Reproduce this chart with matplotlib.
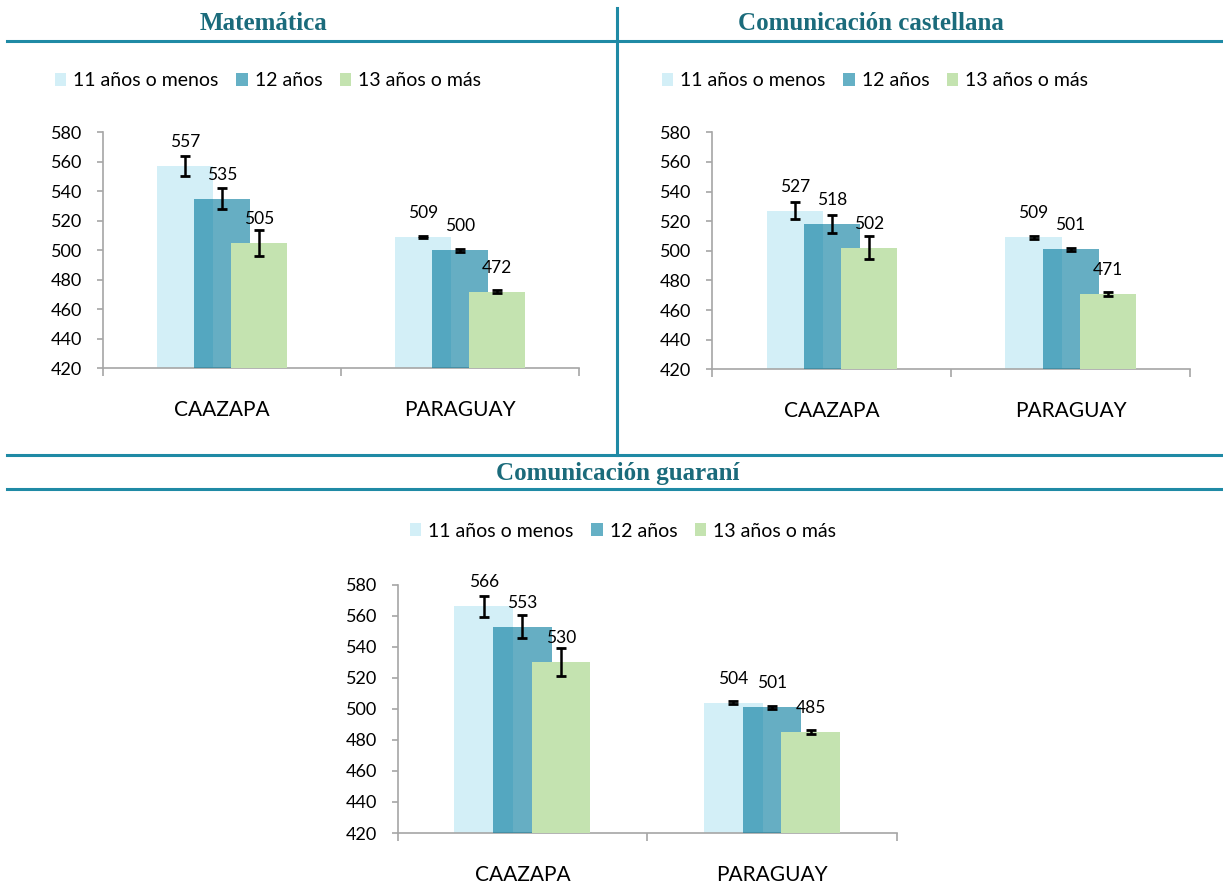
import matplotlib
matplotlib.use("Agg")
import matplotlib.pyplot as plt
import numpy as np
from matplotlib.patches import Patch
from matplotlib.lines import Line2D

categories = ["CAAZAPA", "PARAGUAY"]
series_names = ["11 años o menos", "12 años", "13 años o más"]
y_ticks = [420, 440, 460, 480, 500, 520, 540, 560, 580]

mat_11 = [557, 509]
mat_12 = [535, 500]
mat_13 = [505, 472]
mat_err_11 = [6.7, 1.0]
mat_err_12 = [7.2, 1.0]
mat_err_13 = [8.8, 1.2]

cas_11 = [527, 509]
cas_12 = [518, 501]
cas_13 = [502, 471]
cas_err_11 = [5.7, 1.2]
cas_err_12 = [6.0, 0.8]
cas_err_13 = [7.7, 1.3]

gua_11 = [566, 504]
gua_12 = [553, 501]
gua_13 = [530, 485]
gua_err_11 = [6.6, 0.9]
gua_err_12 = [7.5, 0.9]
gua_err_13 = [8.9, 1.5]

FONT = "Lato"
C_LIGHT = "#d3eff7"
C_MID = (0.0, 0.47, 0.61, 0.6)
C_MID_LEG = "#65b0c5"
C_GREEN = "#c4e3b0"
TEAL_TXT = "#1b6b7b"
TEAL_LINE = "#1f8aa5"
AX_GRAY = "#a6a6a6"

W, H = 1223, 888
fig = plt.figure(figsize=(W / 100, H / 100), dpi=100)


def fx(px):
    return px / W


def fy(py):
    return 1 - py / H


def panel(rect, v11, v12, v13, e11, e12, e13):
    ax = fig.add_axes(rect)
    x = np.arange(len(categories)) + 0.5
    bw = 0.235
    step = 0.155
    vals = [v11, v12, v13]
    errs = [e11, e12, e13]
    cols = [C_LIGHT, C_MID, C_GREEN]
    for i, (v, e, c) in enumerate(zip(vals, errs, cols)):
        xi = x + (i - 1) * step
        heights = np.array(v) - 420
        ax.bar(xi, heights, bw, bottom=420, color=c, zorder=2 + i, linewidth=0)
        ax.errorbar(xi, v, yerr=e, fmt="none", ecolor="black", elinewidth=1.8,
                    capsize=3.6, capthick=2.0, zorder=10)
        for xx, vv in zip(xi, v):
            ax.annotate(str(vv), (xx, vv), xytext=(0, 11.5), textcoords="offset points",
                        ha="center", va="bottom", fontsize=12.5, family=FONT, zorder=11)
    ax.set_xlim(0, 2)
    ax.set_ylim(420, 580)
    ax.set_yticks(y_ticks)
    ax.set_yticklabels([str(t) for t in y_ticks], family=FONT, fontsize=13)
    ax.set_xticks(x)
    ax.set_xticklabels(categories, family=FONT, fontsize=15)
    ax.set_xticks([0, 1, 2], minor=True)
    ax.tick_params(axis="x", which="major", length=0, pad=23)
    ax.tick_params(axis="x", which="minor", length=6, color=AX_GRAY, width=1.2)
    ax.tick_params(axis="y", length=4, color=AX_GRAY, width=1.2, pad=11)
    for s in ["top", "right"]:
        ax.spines[s].set_visible(False)
    for s in ["left", "bottom"]:
        ax.spines[s].set_color(AX_GRAY)
        ax.spines[s].set_linewidth(1.2)
    return ax


def legend_at(cx, cy):
    handles = [Patch(facecolor=C_LIGHT, edgecolor="none"),
               Patch(facecolor=C_MID_LEG, edgecolor="none"),
               Patch(facecolor=C_GREEN, edgecolor="none")]
    fig.legend(handles, series_names, loc="center", bbox_to_anchor=(fx(cx), fy(cy)),
               ncol=3, frameon=False, prop={"family": FONT, "size": 14},
               handlelength=0.6, handleheight=0.6, handletextpad=0.35,
               columnspacing=0.9, borderaxespad=0, borderpad=0)


# panels
panel([fx(103.3), fy(368.3), fx(579) - fx(103.3), fy(132.3) - fy(368.3)],
      mat_11, mat_12, mat_13, mat_err_11, mat_err_12, mat_err_13)
panel([fx(712.3), fy(369.3), fx(1190) - fx(712.3), fy(132.3) - fy(369.3)],
      cas_11, cas_12, cas_13, cas_err_11, cas_err_12, cas_err_13)
panel([fx(397.7), fy(833), fx(896.7) - fx(397.7), fy(584.7) - fy(833)],
      gua_11, gua_12, gua_13, gua_err_11, gua_err_12, gua_err_13)

legend_at(268, 81)
legend_at(875, 81)
legend_at(623, 531)

# titles
tkw = dict(ha="center", va="center", color=TEAL_TXT, fontsize=18,
           fontweight="bold", family="Liberation Serif")
fig.text(fx(263), fy(24), "Matemática", **tkw)
fig.text(fx(871), fy(24), "Comunicación castellana", **tkw)
fig.text(fx(618), fy(473), "Comunicación guaraní", **tkw)

# frame lines
lkw = dict(color=TEAL_LINE, linewidth=2.2, transform=fig.transFigure)
fig.add_artist(Line2D([fx(7), fx(1221)], [fy(41), fy(41)], **lkw))
fig.add_artist(Line2D([fx(617), fx(617)], [fy(8), fy(455)], **lkw))
fig.add_artist(Line2D([fx(7), fx(1221)], [fy(455), fy(455)], **lkw))
fig.add_artist(Line2D([fx(7), fx(1221)], [fy(489), fy(489)], **lkw))

fig.savefig("out.png", dpi=100, facecolor="white")
